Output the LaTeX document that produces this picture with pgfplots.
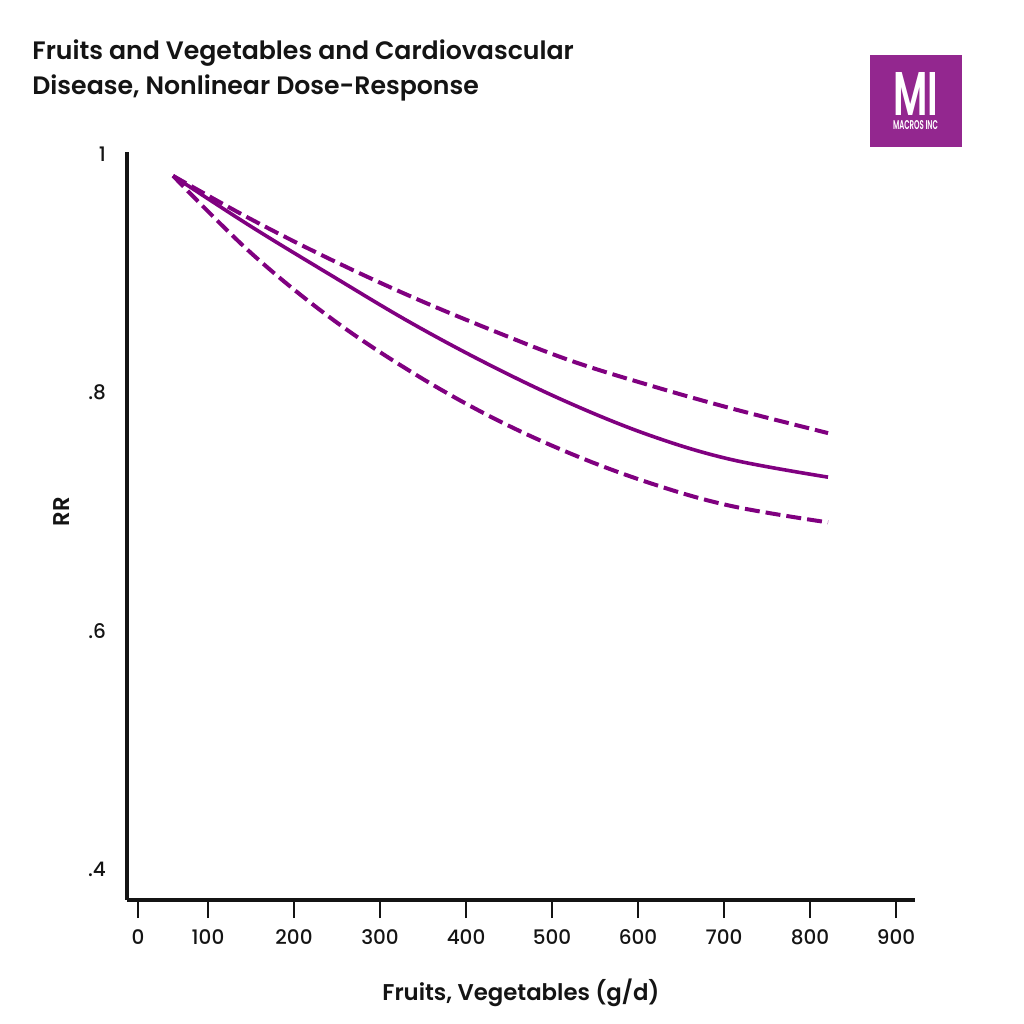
\documentclass[border=0pt]{standalone}
\usepackage{pgfplots}
\pgfplotsset{compat=1.18}
\usepackage{fontspec}
\usepackage{graphicx}
\setmainfont{Poppins}[UprightFont={* Medium},BoldFont={* SemiBold}]
\definecolor{curve}{RGB}{128,0,128}
\definecolor{logo}{RGB}{147,39,143}
\definecolor{ink}{RGB}{20,20,20}
\pgfplotstableread{
x y
59.3 0.982
148.8 0.946
241.9 0.912
334.9 0.881
427.9 0.853
520.9 0.827
614.0 0.806
707.0 0.787
820.9 0.766
}\tabup
\pgfplotstableread{
x y
59.3 0.982
148.8 0.940
241.9 0.899
334.9 0.859
427.9 0.823
520.9 0.791
614.0 0.764
707.0 0.744
820.9 0.729
}\tabmid
\pgfplotstableread{
x y
59.3 0.982
148.8 0.918
241.9 0.863
334.9 0.818
427.9 0.780
520.9 0.749
614.0 0.724
707.0 0.705
820.9 0.691
}\tablow
\begin{document}
\begin{tikzpicture}
\path[use as bounding box] (0,0) rectangle (512pt,512pt);
% title
\node[anchor=base west,inner sep=0,text=ink,font=\bfseries\fontsize{12.6}{14}\selectfont] at (16pt,482pt) {Fruits and Vegetables and Cardiovascular};
\node[anchor=base west,inner sep=0,text=ink,font=\bfseries\fontsize{12.6}{14}\selectfont] at (16pt,464.5pt) {Disease, Nonlinear Dose-Response};
% logo
\fill[logo] (435pt,484.5pt) rectangle (481pt,438.5pt);
\node[inner sep=0,text=white] at (457.75pt,461.5pt) {\vbox{\offinterlineskip\hbox{\resizebox{22.5pt}{21.5pt}{\bfseries MI}}\kern2.5pt\hbox{\resizebox{22.5pt}{4.5pt}{\bfseries MACROS INC}}}};
\begin{axis}[
  at={(63.5pt,62pt)}, anchor=south west,
  scale only axis, width=394pt, height=374pt,
  xmin=5.8, xmax=922, ymin=0.374, ymax=1.002,
  axis lines=left,
  axis line style={line width=1.9pt, ink, -},
  x axis line style={-}, y axis line style={-},
  xtick={18.6,100,200,300,400,500,600,700,800,900},
  xticklabels={0,100,200,300,400,500,600,700,800,900},
  ytick={0.4,0.6,0.8,1},
  yticklabels={.4,.6,.8,1},
  tick align=outside,
  major tick length=9pt,
  x tick style={line width=1.4pt, ink},
  y tick style={draw=none},
  tick label style={font=\fontsize{10}{12}\selectfont, text=ink},
  /pgf/number format/assume math mode=true,
  xticklabel style={anchor=base, yshift=-13pt},
  yticklabel style={anchor=east, xshift=2pt},
  xlabel={Fruits, Vegetables (g/d)},
  ylabel={RR},
  every axis x label/.style={at={(axis description cs:0.5,-0.1337)}, anchor=base, font=\bfseries\fontsize{11.4}{13}\selectfont, text=ink},
  every axis y label/.style={at={(axis description cs:-0.0825,0.519)}, rotate=90, anchor=center, font=\bfseries\fontsize{11.4}{13}\selectfont, text=ink},
  clip=false,
]
\addplot[curve, line width=2pt, dash pattern=on 7.5pt off 3pt, smooth, tension=0.6] table {\tabup};
\addplot[curve, line width=1.8pt, smooth, tension=0.6] table {\tabmid};
\addplot[curve, line width=2pt, dash pattern=on 7.5pt off 3pt, smooth, tension=0.6] table {\tablow};
\end{axis}
\end{tikzpicture}
\end{document}
